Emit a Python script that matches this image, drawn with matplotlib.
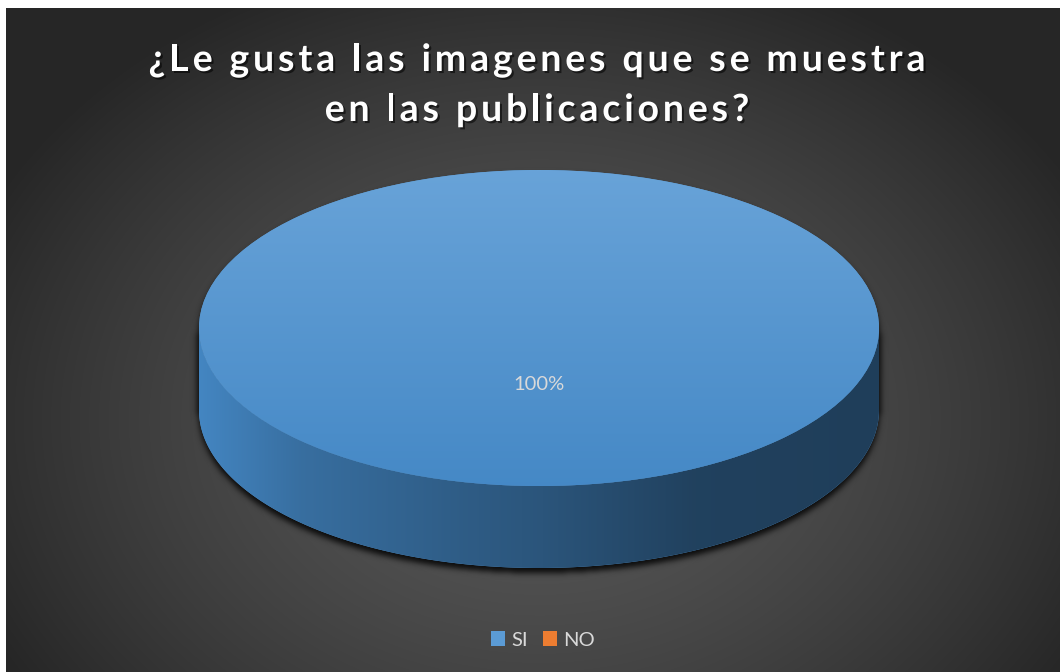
import numpy as np
import matplotlib
matplotlib.use('Agg')
import matplotlib.pyplot as plt
import matplotlib.patheffects as pe
from matplotlib.patches import Polygon
from matplotlib.font_manager import FontProperties

# Datos de la encuesta
categorias = ['SI', 'NO']
valores = [100, 0]
colores = ['#5b9bd5', '#ed7d31']
titulo = ['¿Le gusta las imagenes que se muestra', 'en las publicaciones?']

W, H = 1060, 672
fig = plt.figure(figsize=(W / 100, H / 100), dpi=100)
fig.patch.set_facecolor('white')

# ejes de fondo en pixeles (y hacia abajo)
ax = fig.add_axes([0, 0, 1, 1])
ax.axis('off')

# fondo con degradado radial
x0, y0 = 6, 8
yy, xx = np.mgrid[y0:H, x0:W] + 0.5
r = np.sqrt(((xx - 540) / 620) ** 2 + ((yy - 420) / 480) ** 2)
r = np.clip(r, 0, 1) ** 1.5
gris = (88 - 50 * r) / 255
ax.imshow(np.dstack([gris] * 3), extent=(x0, W, H, y0), interpolation='bilinear', zorder=0)

# geometria de la tarta 3D
cx, cy, a, b, prof = 539, 328, 340, 158, 82


def desenfocar(m, s):
    k = np.arange(-3 * s, 3 * s + 1)
    g = np.exp(-k ** 2 / (2.0 * s * s))
    g /= g.sum()
    m = np.apply_along_axis(lambda v: np.convolve(v, g, 'same'), 0, m)
    m = np.apply_along_axis(lambda v: np.convolve(v, g, 'same'), 1, m)
    return m


def saturar(c, s=1.2):
    # aviva el color alejandolo del gris medio
    m = c.mean(axis=-1, keepdims=True)
    return np.clip(m + (c - m) * s, 0, 1)


# sombra bajo la tarta
u = np.clip((xx - cx) / a, -1, 1)
h = b * np.sqrt(1 - u ** 2)
desp = 5
sil = (np.abs(xx - cx) <= a + 2) & (yy >= cy - h + desp) & (yy <= cy + prof + h + desp)
sombra = desenfocar(sil.astype(float), 3)
rgba = np.zeros(sombra.shape + (4,))
rgba[..., 3] = 0.85 * sombra
ax.imshow(rgba, extent=(x0, W, H, y0), interpolation='bilinear', zorder=1)

# cara lateral de cada porcion (solo la mitad frontal se ve)
fx = [0.0, 0.15, 0.40, 0.50, 0.73, 1.0]
fs = [0.86, 0.71, 0.59, 0.55, 0.42, 0.40]
tot = float(sum(valores))
cum = 0.0
for v, col in zip(valores, colores):
    c0, c1 = cum / tot, (cum + v) / tot
    cum += v
    if v <= 0:
        continue
    t_lo, t_hi = 90 - 360 * c1, 90 - 360 * c0
    for k in (-1, 0, 1):
        lo = max(t_lo, 180 + 360 * k)
        hi = min(t_hi, 360 + 360 * k)
        if hi <= lo:
            continue
        th = np.radians(np.linspace(lo, hi, 300))
        xs = cx + a * np.cos(th)
        ys = cy - b * np.sin(th)
        pts = np.column_stack([np.r_[xs, xs[::-1]], np.r_[ys, ys[::-1] + prof]])
        poly = Polygon(pts, closed=True, facecolor=col, edgecolor='none', zorder=2)
        ax.add_patch(poly)
        base = np.array(matplotlib.colors.to_rgb(col))
        xg = np.linspace(0, 1, 400)
        f = np.interp(xg, fx, fs)
        grad = saturar(f[None, :, None] * base[None, None, :])
        im = ax.imshow(grad, extent=(cx - a, cx + a, cy + b + prof, cy - b),
                       interpolation='bilinear', zorder=3, aspect='auto')
        im.set_clip_path(poly)

ax.set_xlim(0, W)
ax.set_ylim(H, 0)
ax.set_aspect('auto')

# titulo con espaciado entre letras
fig.canvas.draw()
rend = fig.canvas.get_renderer()
fp = FontProperties(family='Lato', weight='bold', size=27)


def ancho(s):
    return rend.get_text_width_height_descent(s, fp, ismath=False)[0]


def avances(linea):
    ref = ancho('||')
    return [ancho('|' + c + '|') - ref for c in linea]


adv1 = avances(titulo[0])
track = (777 - sum(adv1)) / (len(titulo[0]) - 1)
sombra_txt = [pe.withSimplePatchShadow(offset=(1.5, -1.5), shadow_rgbFace='black', alpha=0.55)]
for linea, base_y in zip(titulo, [71, 121]):
    adv = avances(linea)
    total = sum(adv) + track * (len(linea) - 1)
    xp = 537 - total / 2
    for c, w in zip(linea, adv):
        if c != ' ':
            ax.text(xp, base_y, c, fontproperties=fp, color='white', ha='left',
                    va='baseline', zorder=5, path_effects=sombra_txt)
        xp += w + track

# cara superior con pie
ax_pie = fig.add_axes([(cx - a) / W, 1 - (cy + b) / H, 2 * a / W, 2 * b / H])
ax_pie.patch.set_alpha(0)


def etiqueta(p):
    return '%d%%' % round(p) if p > 0 else ''


cunas, textos, autos = ax_pie.pie(valores, colors=colores, startangle=90, counterclock=False,
                                  radius=1, autopct=etiqueta, pctdistance=0.36,
                                  wedgeprops=dict(linewidth=0),
                                  textprops=dict(color='#d9d9d9', fontsize=14.5, family='Lato'))
ax_pie.set_aspect('auto')
ax_pie.set_xlim(-1, 1)
ax_pie.set_ylim(-1, 1)
ax_pie.axis('off')

for cuna, col in zip(cunas, colores):
    base = np.array(matplotlib.colors.to_rgb(col))
    arriba = base + (1 - base) * 0.08
    abajo = saturar(base * 0.88)
    t = np.linspace(0, 1, 300)[:, None]
    grad = arriba[None, None, :] * (1 - t[..., None]) + abajo[None, None, :] * t[..., None]
    grad = np.repeat(grad, 2, axis=1)
    im = ax_pie.imshow(grad, extent=(-1, 1, -1, 1), interpolation='bilinear', zorder=2, aspect='auto')
    im.set_clip_path(cuna)
for tx in autos:
    tx.set_zorder(4)
ax_pie.set_xlim(-1, 1)
ax_pie.set_ylim(-1, 1)

# leyenda inferior
ax_pie.legend(cunas, categorias, loc='center', bbox_to_anchor=(543 / W, 32 / H),
              bbox_transform=fig.transFigure, ncol=2, frameon=False,
              prop=FontProperties(family='Lato', size=14.5), labelcolor='#d9d9d9',
              handlelength=0.7, handleheight=0.7, handletextpad=0.3, columnspacing=0.75)

fig.savefig('out.png', dpi=100, facecolor=fig.get_facecolor())
